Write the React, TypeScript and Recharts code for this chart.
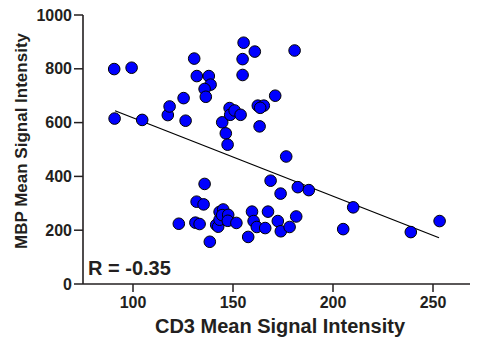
import React from 'react';
import { ScatterChart, Scatter, XAxis, YAxis } from 'recharts';

const FONT = '"Liberation Sans", Arial, sans-serif';
const INK = '#231f20';

// CD3 vs MBP points
const cd3Values = [
  90.6, 99.3, 90.8, 104.6, 117.4, 118.3, 125.3, 126.3, 130.6, 131.9, 137.9, 138.8, 135.8, 136.4,
  144.6, 146.4, 147.3, 148.3, 148.6, 150.8, 153.8, 155.3, 160.9, 180.8, 154.8, 154.8, 171.1,
  162.4, 165.4, 163.6, 163.3, 176.6,
  122.9, 131.2, 133.3, 131.8, 135.3, 135.8, 138.4, 141.6, 142.6, 143.3, 143.3, 145.1, 144.6,
  147.6, 147.4, 151.7, 159.5, 160.3, 157.6, 167.5, 161.9, 166.1, 172.4, 173.9, 178.3, 181.6,
  168.8, 173.8, 182.4, 187.9, 210.1, 253.3, 238.9, 205.1,
];
const mbpValues = [
  799, 804, 615, 610, 628, 660, 691, 607, 838, 773, 773, 741, 725, 696,
  601, 560, 518, 654, 629, 645, 629, 897, 864, 868, 836, 777, 700,
  663, 663, 655, 586, 474,
  224, 228, 223, 306, 296, 372, 157, 220, 213, 239, 268, 277, 256,
  257, 235, 227, 269, 234, 175, 269, 212, 208, 234, 196, 212, 251,
  384, 336, 360, 349, 285, 234, 193, 204,
];

// end points of the fitted line
const fitX = [91, 253];
const fitY = [644, 172];

const xTicks = [100, 150, 200, 250];
const yTicks = [0, 200, 400, 600, 800, 1000];

const points = cd3Values.map((x, i) => ({ x, y: mbpValues[i] }));
const fitLine = fitX.map((x, i) => ({ x, y: fitY[i] }));

const tickStyle = { fill: INK, fontSize: 16, fontWeight: 'bold', fontFamily: FONT };
const textStyle: React.CSSProperties = {
  position: 'absolute',
  fontFamily: FONT,
  fontWeight: 'bold',
  color: INK,
  whiteSpace: 'nowrap',
};

const Dot = (p: any) => (
  <circle cx={p.cx} cy={p.cy} r={5.8} fill="#0000ff" stroke="#000" strokeWidth={1} />
);

export default function App() {
  return (
    <div style={{ position: 'relative', width: 478, height: 339, marginTop: -8, marginLeft: -8, background: '#fff' }}>
      <ScatterChart width={478} height={339} margin={{ top: 15, right: 3, bottom: 0, left: 0 }}>
        <XAxis
          type="number"
          dataKey="x"
          domain={[75, 271]}
          ticks={xTicks}
          height={55}
          tickSize={8}
          tickMargin={5}
          tick={tickStyle}
          axisLine={{ stroke: INK, strokeWidth: 1.6 }}
          tickLine={{ stroke: INK, strokeWidth: 1.5 }}
        />
        <YAxis
          type="number"
          dataKey="y"
          domain={[0, 1000]}
          ticks={yTicks}
          width={83}
          tickSize={9}
          tickMargin={2}
          tick={tickStyle}
          axisLine={{ stroke: INK, strokeWidth: 1.6 }}
          tickLine={{ stroke: INK, strokeWidth: 1.5 }}
        />
        <Scatter
          data={fitLine}
          line={{ stroke: '#000', strokeWidth: 1.3 }}
          shape={() => <g />}
          isAnimationActive={false}
        />
        <Scatter data={points} shape={Dot} isAnimationActive={false} />
      </ScatterChart>
      <div style={{ ...textStyle, left: 88, top: 257, fontSize: 20, lineHeight: '23px' }}>R = -0.35</div>
      <div
        style={{
          ...textStyle,
          left: 280,
          top: 326,
          fontSize: 20,
          lineHeight: '22px',
          transform: 'translate(-50%, -50%)',
        }}
      >
        CD3 Mean Signal Intensity
      </div>
      <div
        style={{
          ...textStyle,
          left: 22,
          top: 141,
          fontSize: 17,
          lineHeight: '20px',
          transform: 'translate(-50%, -50%) rotate(-90deg)',
        }}
      >
        MBP Mean Signal Intensity
      </div>
    </div>
  );
}
